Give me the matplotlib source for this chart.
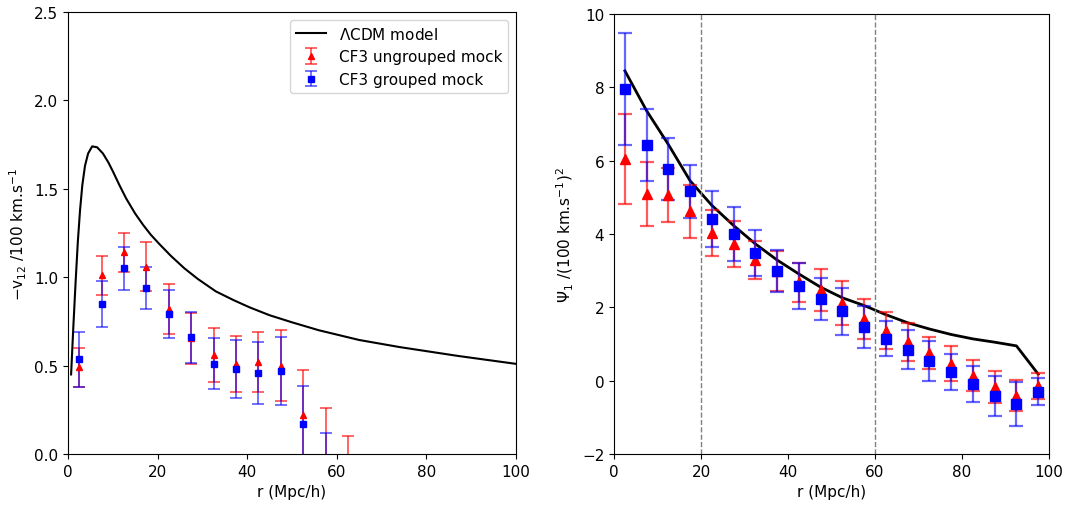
import numpy as np
import matplotlib
matplotlib.use('Agg')
import matplotlib.pyplot as plt

# ---- left panel: pairwise velocity -v12 ----
r_model_l = [0.7, 1.2, 1.7, 2.2, 2.7, 3.2, 3.8, 4.5, 5.4, 6.5, 7.8, 9, 10, 11.5, 13, 15,
             16.8, 18.5, 20.5, 23, 26, 29, 33, 37, 40.5, 45, 50, 56, 65, 74, 87, 100]
v_model = [0.45, 0.72, 0.97, 1.20, 1.38, 1.52, 1.63, 1.70, 1.74, 1.735, 1.70, 1.65, 1.60,
           1.52, 1.445, 1.36, 1.295, 1.24, 1.185, 1.12, 1.05, 0.99, 0.92, 0.87, 0.83, 0.785,
           0.745, 0.70, 0.645, 0.605, 0.555, 0.51]

r_ungr_l = [2.5, 7.5, 12.5, 17.5, 22.5, 27.5, 32.5, 37.5, 42.5, 47.5, 52.5, 57.5, 62.5]
v_ungr = [0.49, 1.01, 1.14, 1.06, 0.82, 0.655, 0.56, 0.51, 0.52, 0.50, 0.22, -0.03, -0.22]
v_ungr_err = [0.11, 0.11, 0.11, 0.14, 0.14, 0.145, 0.15, 0.16, 0.17, 0.20, 0.255, 0.29, 0.32]

r_gr_l = [2.5, 7.5, 12.5, 17.5, 22.5, 27.5, 32.5, 37.5, 42.5, 47.5, 52.5, 57.5]
v_gr = [0.535, 0.85, 1.05, 0.94, 0.79, 0.66, 0.51, 0.48, 0.46, 0.47, 0.17, -0.10]
v_gr_err = [0.155, 0.13, 0.12, 0.12, 0.135, 0.145, 0.145, 0.165, 0.175, 0.19, 0.215, 0.22]

# ---- right panel: psi_1 ----
r_bins = [2.5, 7.5, 12.5, 17.5, 22.5, 27.5, 32.5, 37.5, 42.5, 47.5,
          52.5, 57.5, 62.5, 67.5, 72.5, 77.5, 82.5, 87.5, 92.5, 97.5]
psi_model = [8.45, 7.36, 6.44, 5.45, 4.78, 4.23, 3.73, 3.29, 2.91, 2.55,
             2.26, 2.05, 1.80, 1.58, 1.41, 1.26, 1.14, 1.05, 0.95, 0.18]
psi_ungr = [6.05, 5.10, 5.06, 4.62, 4.02, 3.73, 3.29, 3.0, 2.68, 2.47,
            2.12, 1.68, 1.36, 1.05, 0.75, 0.46, 0.14, -0.18, -0.41, -0.14]
psi_ungr_err = [1.22, 0.87, 0.74, 0.73, 0.63, 0.62, 0.53, 0.55, 0.54, 0.57,
                0.59, 0.55, 0.50, 0.52, 0.43, 0.48, 0.43, 0.44, 0.43, 0.36]
psi_gr = [7.95, 6.42, 5.78, 5.17, 4.41, 4.0, 3.48, 3.0, 2.59, 2.23,
          1.89, 1.47, 1.14, 0.84, 0.53, 0.23, -0.09, -0.41, -0.64, -0.30]
psi_gr_err = [1.52, 0.98, 0.85, 0.72, 0.76, 0.73, 0.63, 0.57, 0.63, 0.57,
              0.65, 0.57, 0.48, 0.53, 0.55, 0.49, 0.50, 0.54, 0.60, 0.37]

plt.rcParams['font.size'] = 11

fig = plt.figure(figsize=(10.72, 5.10), dpi=100)
ax1 = fig.add_axes([0.0634, 0.1078, 0.4179, 0.8667])
ax2 = fig.add_axes([0.5728, 0.1078, 0.4058, 0.8627])

red_e = (1, 0, 0, 0.65)
blue_e = (0, 0, 1, 0.6)

ax1.plot(r_model_l, v_model, color='black', lw=1.5, label=r'$\Lambda$CDM model')
ax1.errorbar(r_ungr_l, v_ungr, yerr=v_ungr_err, fmt='^', color='red', ecolor=red_e,
             ms=5, capsize=4, elinewidth=1.3, capthick=1.3, label='CF3 ungrouped mock')
ax1.errorbar(r_gr_l, v_gr, yerr=v_gr_err, fmt='s', color='blue', ecolor=blue_e,
             ms=5, capsize=4, elinewidth=1.3, capthick=1.3, label='CF3 grouped mock')
ax1.set_xlim(0, 100)
ax1.set_ylim(0, 2.5)
ax1.set_xticks([0, 20, 40, 60, 80, 100])
ax1.set_yticks([0.0, 0.5, 1.0, 1.5, 2.0, 2.5])
ax1.set_xlabel('r (Mpc/h)')
ax1.set_ylabel(r'$-$v$_{12}$ /100 km.s$^{-1}$')
ax1.legend(loc='upper right', fontsize=11)

ax2.plot(r_bins, psi_model, color='black', lw=2)
ax2.errorbar(r_bins, psi_ungr, yerr=psi_ungr_err, fmt='^', color='red', ecolor=red_e,
             ms=7, capsize=5, elinewidth=1.6, capthick=1.6)
ax2.errorbar(r_bins, psi_gr, yerr=psi_gr_err, fmt='s', color='blue', ecolor=blue_e,
             ms=7, capsize=5, elinewidth=1.6, capthick=1.6)
ax2.axvline(20, color='gray', ls='--', lw=1)
ax2.axvline(60, color='gray', ls='--', lw=1)
ax2.set_xlim(0, 100)
ax2.set_ylim(-2, 10)
ax2.set_xticks([0, 20, 40, 60, 80, 100])
ax2.set_yticks([-2, 0, 2, 4, 6, 8, 10])
ax2.set_xlabel('r (Mpc/h)')
ax2.set_ylabel(r'$\Psi_1$ /(100 km.s$^{-1}$)$^2$')

plt.savefig('out.png', dpi=100)
